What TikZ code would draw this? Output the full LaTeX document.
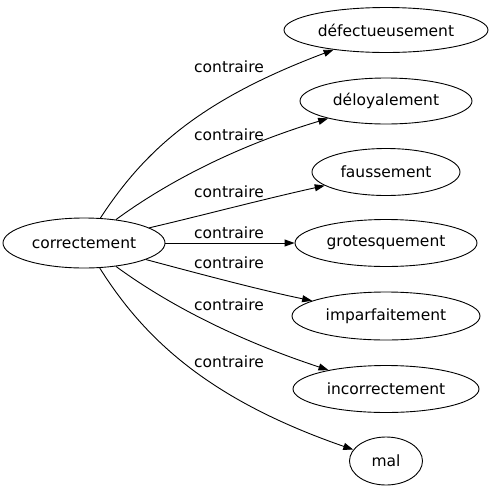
\documentclass[tikz,border=0pt]{standalone}
\usepackage{fontspec}
\setmainfont{DejaVu Sans}
\usetikzlibrary{shapes.geometric,arrows.meta}
\begin{document}
\begin{tikzpicture}[x=1pt,y=-1pt,
  word/.style={draw,ellipse,inner sep=0pt,line width=0.9pt,font=\fontsize{15.5}{18}\selectfont},
  rel/.style={font=\fontsize{15.5}{18}\selectfont,inner sep=0pt},
  link/.style={line width=0.9pt,-{Triangle[length=10pt,width=7pt]}}]
\useasboundingbox (0,0) rectangle (493,491);
\node[word,minimum width=162pt,minimum height=50pt] (c) at (84,243) {correctement};
\node[word,minimum width=204pt,minimum height=45pt] (d1) at (386,30) {défectueusement};
\node[word,minimum width=172pt,minimum height=46pt] (d2) at (386,101) {déloyalement};
\node[word,minimum width=148pt,minimum height=47pt] (d3) at (386,172) {faussement};
\node[word,minimum width=182pt,minimum height=47pt] (d4) at (386,243) {grotesquement};
\node[word,minimum width=188pt,minimum height=48pt] (d5) at (386,316) {imparfaitement};
\node[word,minimum width=186pt,minimum height=47pt] (d6) at (386,389) {incorrectement};
\node[word,minimum width=73pt,minimum height=48pt] (d7) at (386,461) {mal};
\node[rel] (l1) at (229,67) {contraire};
\node[rel] (l2) at (229,135) {contraire};
\node[rel] (l3) at (229,192) {contraire};
\node[rel] (l4) at (229,233) {contraire};
\node[rel] (l5) at (229,263) {contraire};
\node[rel] (l6) at (229,305) {contraire};
\node[rel] (l7) at (229,362) {contraire};
\draw[link] (c) .. controls (145,150) and (200,100) .. (d1);
\draw[link] (c) .. controls (170,180) and (240,145) .. (d2);
\draw[link] (c) .. controls (200,216) and (260,200) .. (d3);
\draw[link] (c) -- (d4);
\draw[link] (c) .. controls (200,274) and (260,290) .. (d5);
\draw[link] (c) .. controls (170,306) and (240,341) .. (d6);
\draw[link] (c) .. controls (145,340) and (210,400) .. (d7);
\end{tikzpicture}
\end{document}
